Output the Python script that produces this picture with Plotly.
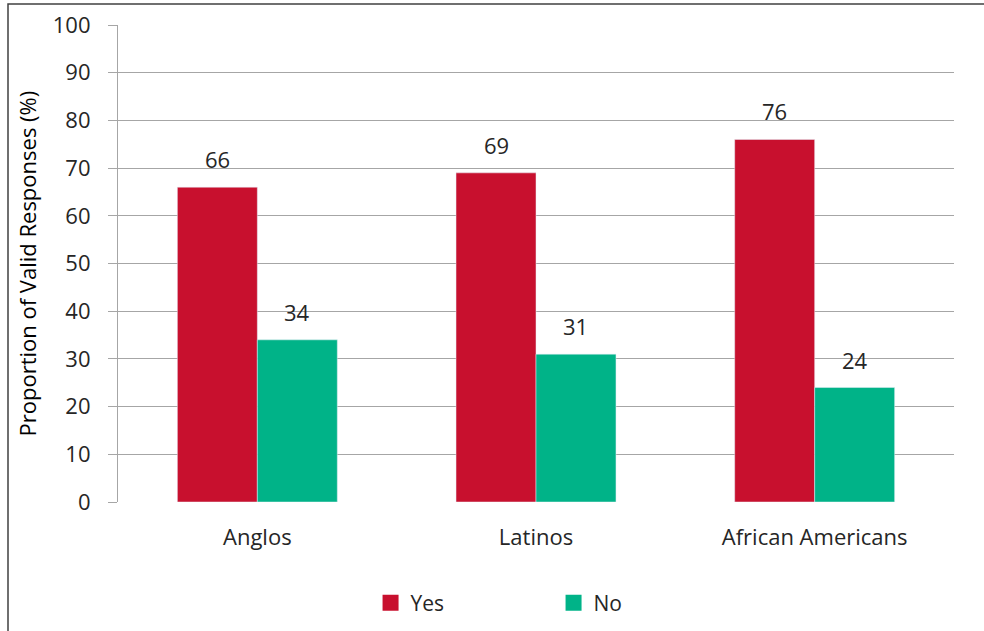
import plotly.graph_objects as go

categories = ["Anglos", "Latinos", "African Americans"]
yes_values = [66, 69, 76]
no_values = [34, 31, 24]
y_ticks = [0, 10, 20, 30, 40, 50, 60, 70, 80, 90, 100]

RED = "#C8102E"
GREEN = "#00B388"
FONT = "Open Sans"
TXT = "#262626"
FS = 22

PLOT_W = 836
BARGAP = 0.426
bar_w = PLOT_W / len(categories) * (1 - BARGAP) / 2

fig = go.Figure()
fig.add_trace(go.Bar(x=categories, y=yes_values, name="Yes", marker_color=RED,
                     showlegend=False))
fig.add_trace(go.Bar(x=categories, y=no_values, name="No", marker_color=GREEN,
                     showlegend=False))
# legend proxies (larger square symbols)
fig.add_trace(go.Scatter(x=[None], y=[None], mode="markers", name="Yes",
                         marker=dict(symbol="square", size=16, color=RED)))
fig.add_trace(go.Scatter(x=[None], y=[None], mode="markers", name="No",
                         marker=dict(symbol="square", size=16, color=GREEN)))

annotations = []
for vals, shift in ((yes_values, -bar_w / 2), (no_values, bar_w / 2)):
    for c, v in zip(categories, vals):
        annotations.append(dict(x=c, y=v, xref="x", yref="y", text=str(v),
                                showarrow=False, xshift=shift, yshift=28,
                                yanchor="middle",
                                font=dict(family=FONT, size=FS, color=TXT)))
annotations.append(dict(x=-92 / PLOT_W, y=0.5, xref="paper", yref="paper",
                        text="Proportion of Valid Responses (%)", textangle=-90,
                        showarrow=False, xanchor="center", yanchor="middle",
                        font=dict(family=FONT, size=22, color="#000000")))

fig.update_layout(
    width=984, height=631,
    margin=dict(l=118, r=30, t=25, b=128.5, autoexpand=False),
    paper_bgcolor="white", plot_bgcolor="white",
    barmode="group", bargap=BARGAP, bargroupgap=0,
    font=dict(family=FONT, size=FS, color=TXT),
    showlegend=True,
    legend=dict(orientation="h", x=0.521, xanchor="center",
                yref="container", y=28 / 631, yanchor="middle",
                font=dict(family=FONT, size=21, color=TXT),
                entrywidth=138, entrywidthmode="pixels", traceorder="normal"),
    annotations=annotations,
    shapes=[dict(type="rect", xref="paper", yref="paper",
                 x0=-110 / PLOT_W, x1=1.2, y0=-0.5, y1=1 + 21 / 477.5,
                 line=dict(color="#404040", width=1.5), layer="below")],
)
fig.update_xaxes(showline=False, ticks="", tickfont=dict(family=FONT, size=FS, color=TXT),
                 showgrid=False, ticklabelstandoff=20)
fig.update_yaxes(range=[0, 100], tickvals=y_ticks, showgrid=True, gridcolor="#A6A6A6",
                 gridwidth=1.2, showline=True, linecolor="#A6A6A6", linewidth=1.2,
                 ticks="outside", ticklen=9, tickcolor="#A6A6A6", ticklabelstandoff=13,
                 tickfont=dict(family=FONT, size=FS, color=TXT), zeroline=False)
fig.write_html("out.html")
